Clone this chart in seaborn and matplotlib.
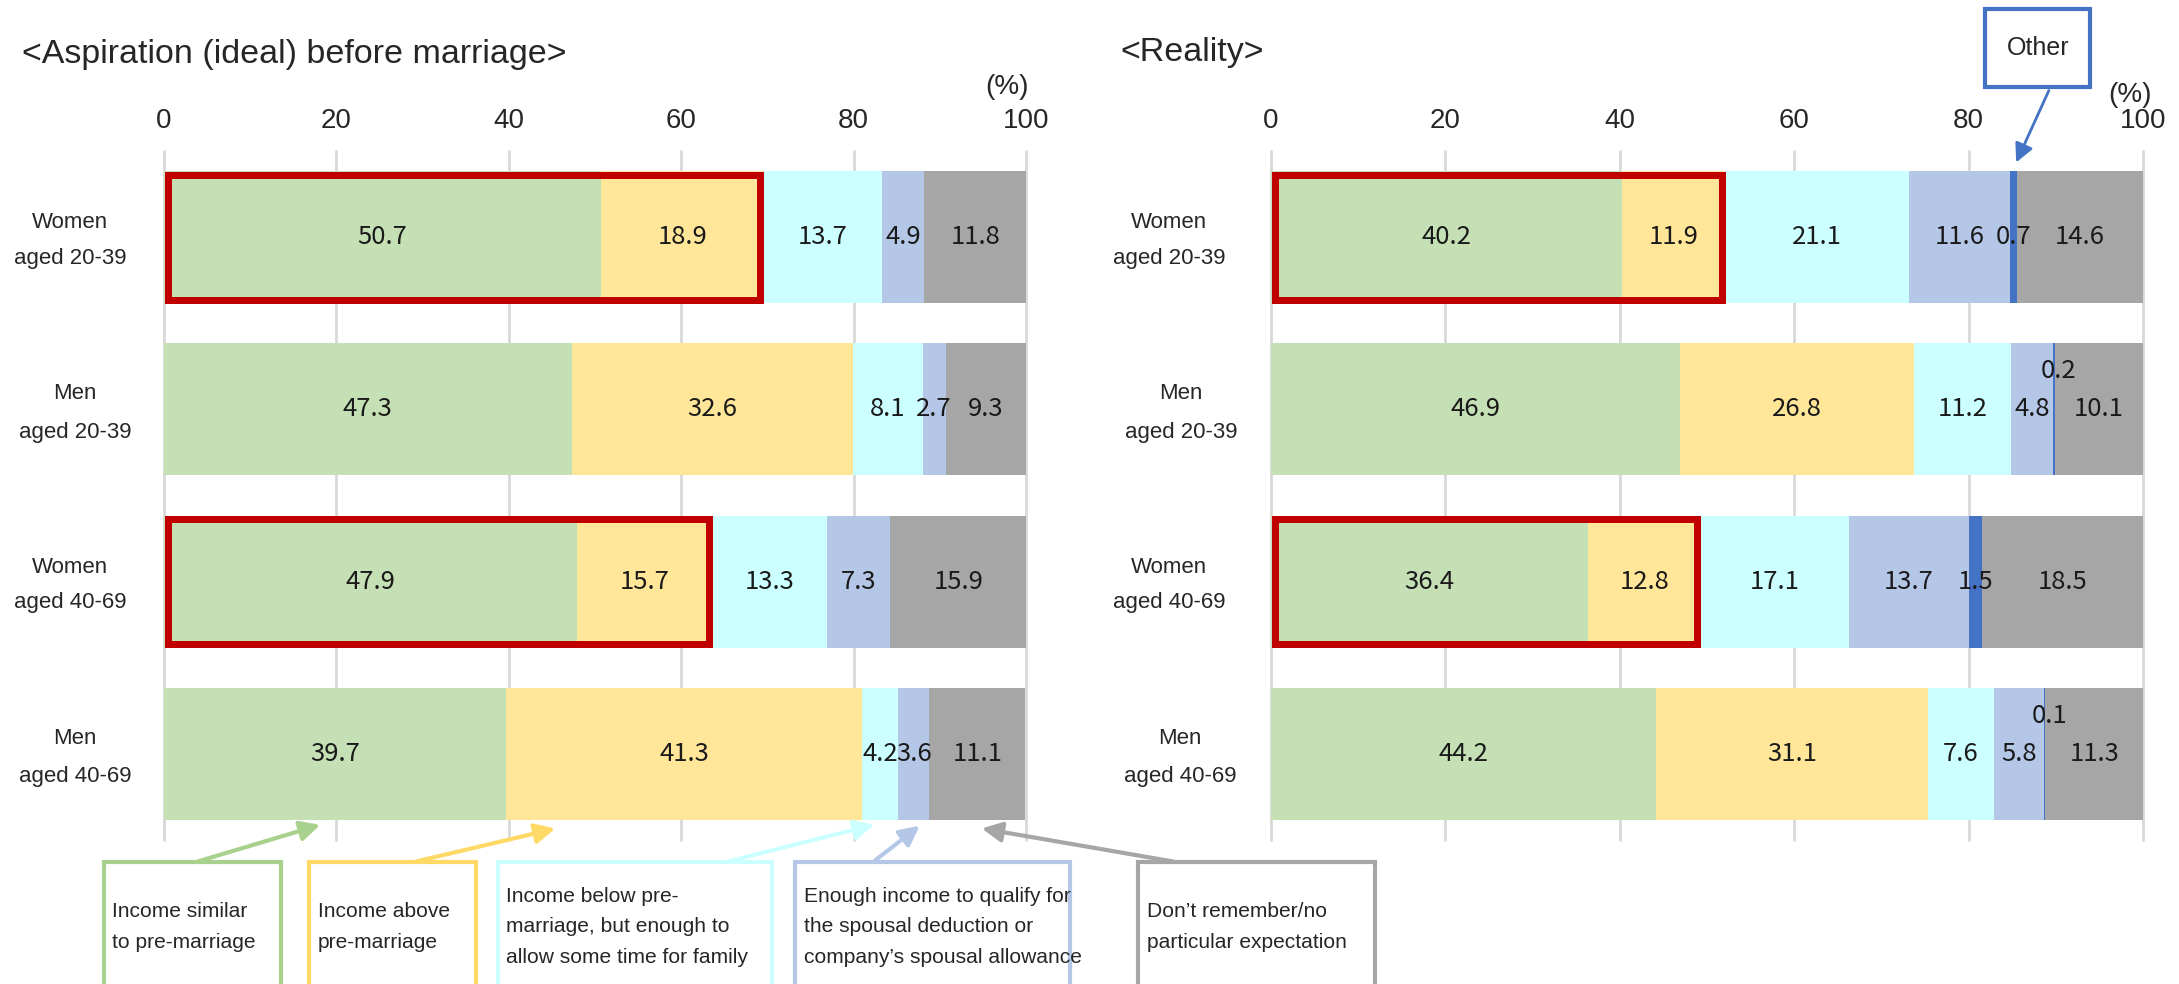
import matplotlib
matplotlib.use("Agg")
import matplotlib.pyplot as plt
from matplotlib import font_manager
from matplotlib.patches import Rectangle, FancyArrowPatch
from matplotlib.transforms import blended_transform_factory
import pandas as pd
import seaborn as sns

groups = ["Women\naged 20-39", "Men\naged 20-39", "Women\naged 40-69", "Men\naged 40-69"]

# aspiration (ideal) before marriage
ideal_similar = [50.7, 47.3, 47.9, 39.7]
ideal_above = [18.9, 32.6, 15.7, 41.3]
ideal_below = [13.7, 8.1, 13.3, 4.2]
ideal_spousal = [4.9, 2.7, 7.3, 3.6]
ideal_dontknow = [11.8, 9.3, 15.9, 11.1]

# reality
real_similar = [40.2, 46.9, 36.4, 44.2]
real_above = [11.9, 26.8, 12.8, 31.1]
real_below = [21.1, 11.2, 17.1, 7.6]
real_spousal = [11.6, 4.8, 13.7, 5.8]
real_other = [0.7, 0.2, 1.5, 0.1]
real_dontknow = [14.6, 10.1, 18.5, 11.3]

highlight_rows = [0, 2]
xticks = [0, 20, 40, 60, 80, 100]

legend_texts = [
    "Income similar\nto pre-marriage",
    "Income above\npre-marriage",
    "Income below pre-\nmarriage, but enough to\nallow some time for family",
    "Enough income to qualify for\nthe spousal deduction or\ncompany\u2019s spousal allowance",
    "Don\u2019t remember/no\nparticular expectation",
]

colors = {
    "similar": "#C5E0B4",
    "above": "#FFE699",
    "below": "#CCFFFF",
    "spousal": "#B4C7E7",
    "other": "#4472C4",
    "dontknow": "#A6A6A6",
}
box_edges = ["#A9D18E", "#FFD966", "#CCFFFF", "#B4C7E7", "#A6A6A6"]

names = {f.name for f in font_manager.fontManager.ttflist}
if "Liberation Sans Narrow" in names:
    narrow, nscale = "Liberation Sans Narrow", 1.0
else:
    narrow, nscale = "Liberation Sans", 0.82
num_font = ["Noto Sans CJK JP", "DejaVu Sans"]

sns.set_style("white")
plt.rcParams["font.family"] = ["Liberation Sans", "DejaVu Sans"]

W, H = 2179, 984
fig = plt.figure(figsize=(W / 100, H / 100), dpi=100)


def fx(px):
    return px / W


def fy(py):
    return 1 - py / H


BAR_W = 0.767
ax_l = fig.add_axes([fx(164), fy(840), fx(1026) - fx(164), fy(151) - fy(840)])
ax_r = fig.add_axes([fx(1271), fy(840), fx(2143) - fx(1271), fy(151) - fy(840)])


def draw_panel(ax, series):
    df = pd.DataFrame(series, index=groups)
    cum = df.cumsum(axis=1)
    for key in reversed(list(series.keys())):
        d = pd.DataFrame({"group": groups, "value": cum[key].values})
        sns.barplot(data=d, x="value", y="group", color=colors[key], saturation=1,
                    width=BAR_W, errorbar=None, linewidth=0, ax=ax)
    ax.set_xlim(0, 100)
    ax.set_ylim(3.5, -0.5)
    ax.set_xlabel("")
    ax.set_ylabel("")
    ax.xaxis.tick_top()
    ax.set_xticks(xticks)
    ax.tick_params(axis="x", length=0, pad=12, labelsize=20, labelcolor="#262626")
    ax.tick_params(axis="y", length=0, labelleft=False)
    ax.grid(axis="x", color="#D9D9D9", lw=2)
    ax.set_axisbelow(True)
    for gl in ax.get_xgridlines():
        gl.set_clip_on(False)
    for s in ax.spines.values():
        s.set_visible(False)

    # value labels
    for i, g in enumerate(groups):
        left = 0
        for key in series:
            v = df.loc[g, key]
            x, y = left + v / 2, i
            if v < 0.5:
                x, y = x + 0.5, i - 0.22
            ax.text(x, y, f"{v:.1f}", ha="center", va="center", fontsize=18.5,
                    family=num_font, color="#1a1a1a")
            left += v

    # red boxes around similar + above for women
    ppx = (ax.get_position().width * W) / 100
    ppy = (ax.get_position().height * H) / 4
    lw_px = 7
    for i in highlight_rows:
        tot = df.iloc[i, 0] + df.iloc[i, 1]
        dx, dy = (lw_px / 2) / ppx, (lw_px / 2) / ppy
        ax.add_patch(Rectangle((dx, i - BAR_W / 2 + dy), tot - 2 * dx, BAR_W - 2 * dy,
                               fill=False, edgecolor="#C00000", lw=lw_px * 0.72, zorder=5))


draw_panel(ax_l, {"similar": ideal_similar, "above": ideal_above, "below": ideal_below,
                  "spousal": ideal_spousal, "dontknow": ideal_dontknow})
draw_panel(ax_r, {"similar": real_similar, "above": real_above, "below": real_below,
                  "spousal": real_spousal, "other": real_other, "dontknow": real_dontknow})

# row labels
row_x_left = [70, 75, 70, 75]
row_x_right = [1169, 1181, 1169, 1180]
row_ls = [1.9, 2.1, 1.9, 2.1]
for ax, xs in [(ax_l, row_x_left), (ax_r, row_x_right)]:
    tr = blended_transform_factory(fig.transFigure, ax.transData)
    for i, g in enumerate(groups):
        ax.text(fx(xs[i]), i + 0.02, g, transform=tr, ha="center", va="center",
                fontsize=19.5 * nscale, family=narrow, linespacing=row_ls[i])

# subtitles and unit
fig.text(fx(22), fy(54), "<Aspiration (ideal) before marriage>", fontsize=24.5,
         ha="left", va="center")
fig.text(fx(1120), fy(52), "<Reality>", fontsize=24.5, ha="left", va="center")
fig.text(fx(1007), fy(87), "(%)", fontsize=20, ha="center", va="center")
fig.text(fx(2130), fy(95), "(%)", fontsize=20, ha="center", va="center")

# legend callout boxes
boxes = [(104, 281), (309, 476), (498, 772), (795, 1070), (1138, 1375)]
text_x = [112, 318, 506, 804, 1147]
for (x0, x1), tx, ec, txt in zip(boxes, text_x, box_edges, legend_texts):
    fig.add_artist(Rectangle((fx(x0), fy(995)), fx(x1) - fx(x0), fy(862) - fy(995),
                             transform=fig.transFigure, fill=False, edgecolor=ec, lw=3,
                             clip_on=False))
    fig.text(fx(tx), fy(927), txt, ha="left", va="center", fontsize=18.5 * nscale,
             family=narrow, linespacing=1.75)

arrows = [((196, 862), (323, 824)), ((414, 862), (558, 828)), ((726, 862), (877, 824)),
          ((873, 862), (922, 824)), ((1176, 862), (979, 828))]
for (a, b), ec in zip(arrows, box_edges):
    fig.add_artist(FancyArrowPatch((fx(a[0]), fy(a[1])), (fx(b[0]), fy(b[1])),
                                   transform=fig.transFigure, arrowstyle="-|>",
                                   mutation_scale=30, lw=3, color=ec))

# "Other" callout
fig.add_artist(Rectangle((fx(1985), fy(87)), fx(2090) - fx(1985), fy(9) - fy(87),
                         transform=fig.transFigure, facecolor="white", edgecolor="#4472C4",
                         lw=3))
fig.text(fx(2038), fy(48), "Other", ha="center", va="center", fontsize=18, family=narrow)
fig.add_artist(FancyArrowPatch((fx(2050), fy(88)), (fx(2015), fy(165)),
                               transform=fig.transFigure, arrowstyle="-|>",
                               mutation_scale=28, lw=2, color="#4472C4"))

fig.savefig("out.png", dpi=100)
